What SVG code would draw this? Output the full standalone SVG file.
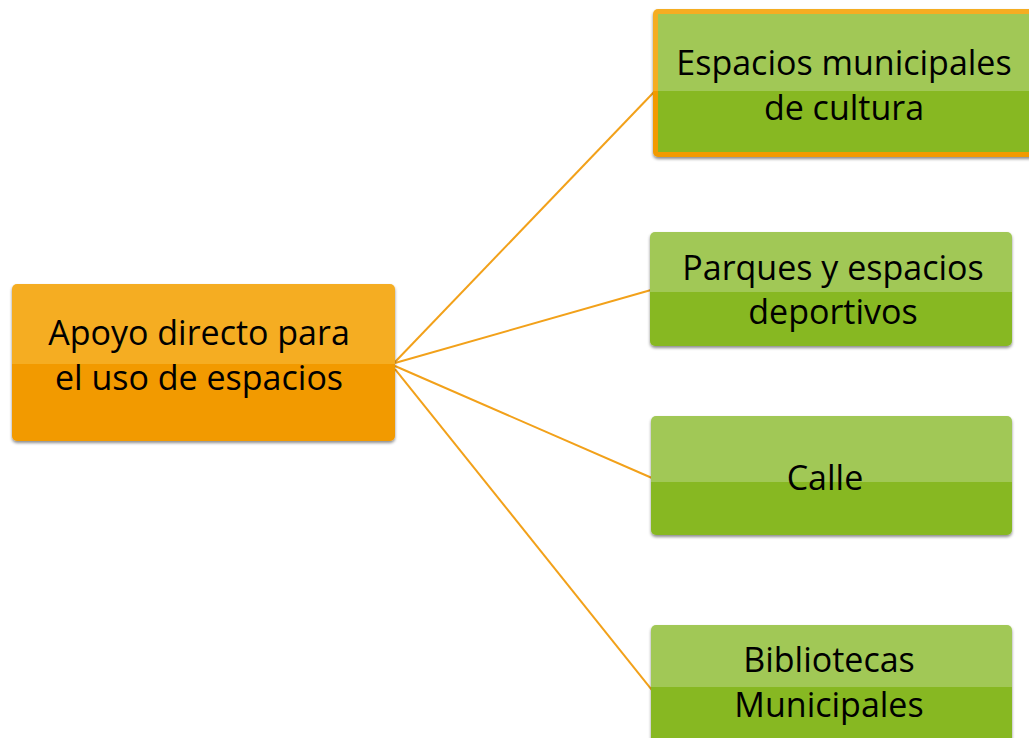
<svg xmlns="http://www.w3.org/2000/svg" width="1029" height="738" viewBox="0 0 1029 738">
<style>
.t{font-family:"Open Sans","Liberation Sans",sans-serif;font-size:34px;fill:#000;text-anchor:middle}
.ln{stroke:#F2A11A;stroke-width:2;fill:none}
.gt{fill:#A1C856}.gb{fill:#87B823}
.ot{fill:#F5AD22}.ob{fill:#F29A02}
</style>
<defs>
<filter id="sh" x="-5%" y="-5%" width="110%" height="115%">
<feDropShadow dx="0" dy="2" stdDeviation="1.5" flood-color="#000" flood-opacity="0.45"/>
</filter>
<clipPath id="c0"><rect x="12" y="284" width="383" height="157" rx="5"/></clipPath>
<clipPath id="c1"><rect x="653" y="9" width="420" height="148" rx="5"/></clipPath>
<clipPath id="c2"><rect x="650" y="232" width="362" height="114" rx="5"/></clipPath>
<clipPath id="c3"><rect x="651" y="416" width="361" height="119" rx="5"/></clipPath>
<clipPath id="c4"><rect x="651" y="625" width="361" height="130" rx="5"/></clipPath>
</defs>
<g id="connectors">
<line class="ln" x1="395" y1="362" x2="654" y2="92"/>
<line class="ln" x1="395" y1="363" x2="651" y2="290"/>
<line class="ln" x1="395" y1="366" x2="652" y2="478"/>
<line class="ln" x1="395" y1="369" x2="652" y2="690"/>
</g>
<g id="n0">
<g filter="url(#sh)"><g clip-path="url(#c0)">
<rect class="ot" x="12" y="284" width="383" height="80"/>
<rect class="ob" x="12" y="364" width="383" height="77"/>
</g></g>
<text class="t" x="199" y="345">Apoyo directo para</text>
<text class="t" x="199" y="390">el uso de espacios</text>
</g>
<g id="n1">
<g filter="url(#sh)"><g clip-path="url(#c1)">
<rect class="ot" x="653" y="9" width="420" height="82"/>
<rect class="ob" x="653" y="91" width="420" height="66"/>
<rect class="gt" x="658" y="14" width="420" height="77"/>
<rect class="gb" x="658" y="91" width="420" height="61"/>
</g></g>
<text class="t" x="844" y="75">Espacios municipales</text>
<text class="t" x="844" y="120">de cultura</text>
</g>
<g id="n2">
<g filter="url(#sh)"><g clip-path="url(#c2)">
<rect class="gt" x="650" y="232" width="362" height="60"/>
<rect class="gb" x="650" y="292" width="362" height="54"/>
</g></g>
<text class="t" x="833" y="280">Parques y espacios</text>
<text class="t" x="833" y="324">deportivos</text>
</g>
<g id="n3">
<g filter="url(#sh)"><g clip-path="url(#c3)">
<rect class="gt" x="651" y="416" width="361" height="66"/>
<rect class="gb" x="651" y="482" width="361" height="53"/>
</g></g>
<text class="t" x="825" y="490">Calle</text>
</g>
<g id="n4">
<g filter="url(#sh)"><g clip-path="url(#c4)">
<rect class="gt" x="651" y="625" width="361" height="62"/>
<rect class="gb" x="651" y="687" width="361" height="68"/>
</g></g>
<text class="t" x="829" y="672">Bibliotecas</text>
<text class="t" x="829" y="717">Municipales</text>
</g>
</svg>
